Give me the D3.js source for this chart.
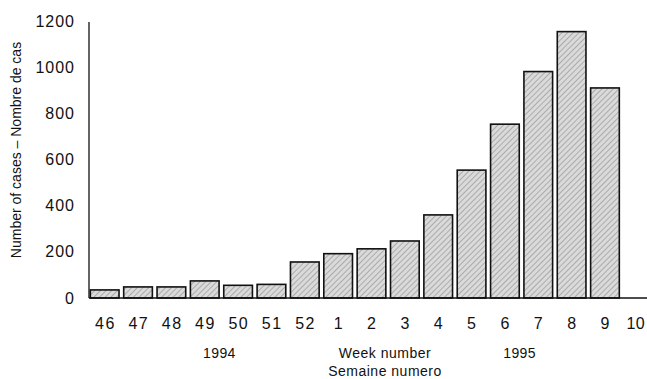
<!DOCTYPE html>
<html>
<head>
<meta charset="utf-8">
<script src="https://cdn.jsdelivr.net/npm/d3@7"></script>
<style>
  body { margin: 0; background: #fff; }
  svg text { font-family: "Liberation Sans", Arial, sans-serif; fill: #111; }
</style>
</head>
<body>
<div id="chart"></div>
<script>
// week labels (1994: 46-52, 1995: 1-10) and weekly case counts
var weeks = ["46", "47", "48", "49", "50", "51", "52", "1", "2", "3", "4", "5", "6", "7", "8", "9", "10"];
var cases = [35, 48, 48, 74, 55, 59, 156, 192, 213, 247, 360, 554, 753, 981, 1154, 910, null];
var yTicks = [0, 200, 400, 600, 800, 1000, 1200];
// year captions sit in the gap after these weeks
var yearLabels = [{ text: "1994", after: "49" }, { text: "1995", after: "6" }];

var svgWidth = 647, svgHeight = 379;

var svg = d3.select("#chart").append("svg")
  .attr("width", svgWidth)
  .attr("height", svgHeight);

// hatched grey fill, rough imitation of the printed screen
var defs = svg.append("defs");
var pat = defs.append("pattern")
  .attr("id", "hatch")
  .attr("patternUnits", "userSpaceOnUse")
  .attr("width", 4)
  .attr("height", 4)
  .attr("patternTransform", "rotate(45)");
pat.append("rect").attr("width", 4).attr("height", 4).attr("fill", "#dadada");
pat.append("line")
  .attr("x1", 0).attr("y1", 0).attr("x2", 0).attr("y2", 4)
  .attr("stroke", "#858585").attr("stroke-width", 1.1);

var x = d3.scaleBand()
  .domain(weeks)
  .range([88, 655])
  .paddingInner(0.14)
  .paddingOuter(0.07);

var y = d3.scaleLinear()
  .domain([0, 1200])
  .range([298, 21]);

// bars
svg.append("g")
  .selectAll("rect")
  .data(weeks.map(function (w, i) { return { week: w, value: cases[i] }; })
    .filter(function (d) { return d.value != null; }))
  .enter()
  .append("rect")
  .attr("x", d => x(d.week))
  .attr("y", d => y(d.value))
  .attr("width", x.bandwidth())
  .attr("height", d => y(0) - y(d.value))
  .attr("fill", "url(#hatch)")
  .attr("stroke", "#111")
  .attr("stroke-width", 1.6);

// y axis
var yAxis = svg.append("g")
  .attr("transform", "translate(89,0)")
  .call(d3.axisLeft(y).tickValues(yTicks).tickSize(0).tickPadding(14).tickFormat(d3.format("d")));
yAxis.select(".domain").attr("d", "M0,22V298").attr("stroke", "#111").attr("stroke-width", 1.3);
yAxis.selectAll("text")
  .attr("font-size", 16)
  .attr("font-family", null)
  .attr("letter-spacing", 1);

// x axis
var xAxis = svg.append("g")
  .attr("transform", "translate(0,298)")
  .call(d3.axisBottom(x).tickSize(0).tickPadding(20));
xAxis.select(".domain").attr("d", "M89,0H647").attr("stroke", "#111").attr("stroke-width", 1.6);
xAxis.selectAll("text")
  .attr("font-size", 16)
  .attr("font-family", null)
  .attr("letter-spacing", 1.5)
  .attr("dx", 0.75);
// last label sits at the page edge, nudge it in so it stays whole
xAxis.selectAll(".tick").filter(d => d === weeks[weeks.length - 1]).select("text")
  .attr("letter-spacing", 0.5)
  .attr("dx", -2.5);

// year captions under the weeks
var gap = (x.step() - x.bandwidth()) / 2;
svg.append("g")
  .selectAll("text")
  .data(yearLabels)
  .enter()
  .append("text")
  .attr("x", d => x(d.after) + x.bandwidth() + gap - 2)
  .attr("y", 358)
  .attr("text-anchor", "middle")
  .attr("font-size", 14)
  .attr("letter-spacing", 0.4)
  .text(d => d.text);

// axis titles
svg.append("text")
  .attr("x", 385)
  .attr("y", 358)
  .attr("text-anchor", "middle")
  .attr("font-size", 14)
  .attr("letter-spacing", 0.5)
  .text("Week number");
svg.append("text")
  .attr("x", 385)
  .attr("y", 376)
  .attr("text-anchor", "middle")
  .attr("font-size", 14)
  .attr("letter-spacing", 0.5)
  .text("Semaine numero");

svg.append("text")
  .attr("transform", "translate(21,150) rotate(-90)")
  .attr("text-anchor", "middle")
  .attr("font-size", 14)
  .text("Number of cases \u2013 Nombre de cas");
</script>
</body>
</html>
